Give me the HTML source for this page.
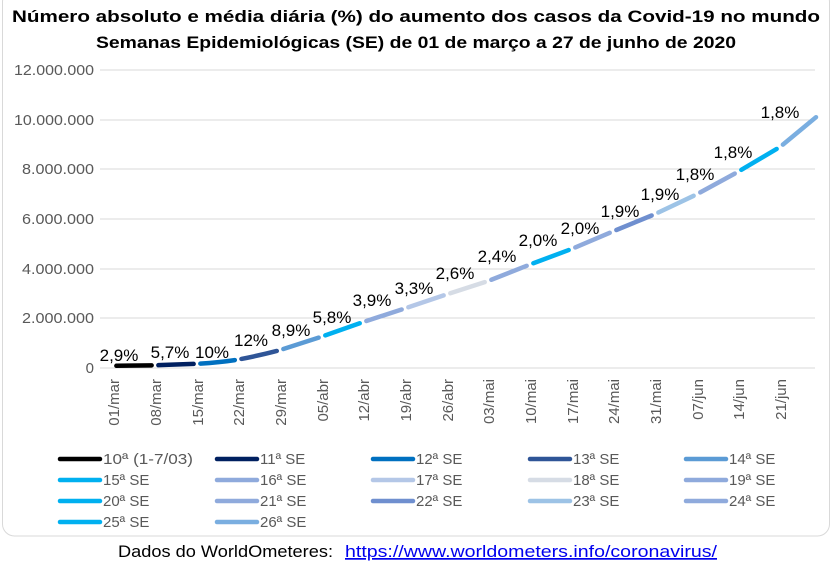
<!DOCTYPE html>
<html><head><meta charset="utf-8"><style>
body{margin:0;background:#fff;width:833px;height:565px;overflow:hidden;font-family:"Liberation Sans",sans-serif}
</style></head><body>
<svg width="833" height="565" xmlns="http://www.w3.org/2000/svg" font-family="Liberation Sans, sans-serif">
<rect x="2.5" y="-10" width="827" height="546" rx="12" fill="#fff" stroke="#d9d9d9"/>
<text x="416" y="22" text-anchor="middle" font-size="17" font-weight="bold" textLength="808" lengthAdjust="spacingAndGlyphs">Número absoluto e média diária (%) do aumento dos casos da Covid-19 no mundo</text>
<text x="416" y="48" text-anchor="middle" font-size="17" font-weight="bold" textLength="640" lengthAdjust="spacingAndGlyphs">Semanas Epidemiológicas (SE) de 01 de março a 27 de junho de 2020</text>
<g stroke="#d9d9d9" stroke-width="1">
<line x1="100" x2="815" y1="70" y2="70"/><line x1="100" x2="815" y1="120" y2="120"/><line x1="100" x2="815" y1="169" y2="169"/><line x1="100" x2="815" y1="219" y2="219"/><line x1="100" x2="815" y1="269" y2="269"/><line x1="100" x2="815" y1="318" y2="318"/><line x1="100" x2="815" y1="368" y2="368"/>
</g>
<g font-size="15" fill="#595959" text-anchor="end">
<text x="94" y="75" textLength="80" lengthAdjust="spacingAndGlyphs">12.000.000</text><text x="94" y="125" textLength="80" lengthAdjust="spacingAndGlyphs">10.000.000</text><text x="94" y="174" textLength="72" lengthAdjust="spacingAndGlyphs">8.000.000</text><text x="94" y="224" textLength="72" lengthAdjust="spacingAndGlyphs">6.000.000</text><text x="94" y="274" textLength="72" lengthAdjust="spacingAndGlyphs">4.000.000</text><text x="94" y="323" textLength="72" lengthAdjust="spacingAndGlyphs">2.000.000</text><text x="94" y="373">0</text>
</g>
<g font-size="15" fill="#595959" text-anchor="end">
<text transform="translate(119,379) rotate(-90)">01/mar</text>
<text transform="translate(161,379) rotate(-90)">08/mar</text>
<text transform="translate(203,379) rotate(-90)">15/mar</text>
<text transform="translate(244,379) rotate(-90)">22/mar</text>
<text transform="translate(286,379) rotate(-90)">29/mar</text>
<text transform="translate(328,379) rotate(-90)">05/abr</text>
<text transform="translate(369,379) rotate(-90)">12/abr</text>
<text transform="translate(411,379) rotate(-90)">19/abr</text>
<text transform="translate(453,379) rotate(-90)">26/abr</text>
<text transform="translate(494,379) rotate(-90)">03/mai</text>
<text transform="translate(536,379) rotate(-90)">10/mai</text>
<text transform="translate(578,379) rotate(-90)">17/mai</text>
<text transform="translate(619,379) rotate(-90)">24/mai</text>
<text transform="translate(661,379) rotate(-90)">31/mai</text>
<text transform="translate(703,379) rotate(-90)">07/jun</text>
<text transform="translate(744,379) rotate(-90)">14/jun</text>
<text transform="translate(786,379) rotate(-90)">21/jun</text>
</g>
<g fill="none" stroke-width="4.5" stroke-linecap="round">
<path pathLength="100" stroke-dasharray="84 100" stroke-dashoffset="-8" stroke="#000000" d="M113,365.8 L155,365.3"/>
<path pathLength="100" stroke-dasharray="84 100" stroke-dashoffset="-8" stroke="#002060" d="M155,365.3 L197,363.8"/>
<path pathLength="100" stroke-dasharray="84 100" stroke-dashoffset="-8" stroke="#0070c0" d="M197,363.8 Q220,362.5 238,359.6"/>
<path pathLength="100" stroke-dasharray="84 100" stroke-dashoffset="-8" stroke="#2f5597" d="M238,359.6 Q262,355 280,350.1"/>
<path pathLength="100" stroke-dasharray="84 100" stroke-dashoffset="-8" stroke="#5b9bd5" d="M280,350.1 L322,336.5"/>
<path pathLength="100" stroke-dasharray="84 100" stroke-dashoffset="-8" stroke="#00b0f0" d="M322,336.5 L363,322.1"/>
<path pathLength="100" stroke-dasharray="84 100" stroke-dashoffset="-8" stroke="#8faadc" d="M363,322.1 L405,308.4"/>
<path pathLength="100" stroke-dasharray="84 100" stroke-dashoffset="-8" stroke="#b4c7e7" d="M405,308.4 L447,294.3"/>
<path pathLength="100" stroke-dasharray="84 100" stroke-dashoffset="-8" stroke="#d6dce5" d="M447,294.3 L488,281.1"/>
<path pathLength="100" stroke-dasharray="84 100" stroke-dashoffset="-8" stroke="#8faadc" d="M488,281.1 L530,264.5"/>
<path pathLength="100" stroke-dasharray="84 100" stroke-dashoffset="-8" stroke="#00b0f0" d="M530,264.5 L572,248.8"/>
<path pathLength="100" stroke-dasharray="84 100" stroke-dashoffset="-8" stroke="#8faadc" d="M572,248.8 L613,231.4"/>
<path pathLength="100" stroke-dasharray="84 100" stroke-dashoffset="-8" stroke="#6f8fcf" d="M613,231.4 L655,214.1"/>
<path pathLength="100" stroke-dasharray="84 100" stroke-dashoffset="-8" stroke="#9dc3e6" d="M655,214.1 L697,194.2"/>
<path pathLength="100" stroke-dasharray="84 100" stroke-dashoffset="-8" stroke="#8faadc" d="M697,194.2 L738,171.8"/>
<path pathLength="100" stroke-dasharray="84 100" stroke-dashoffset="-8" stroke="#00b0f0" d="M738,171.8 L780,147"/>
<path pathLength="100" stroke-dasharray="92 100" stroke-dashoffset="-8" stroke="#7aaee0" d="M780,147 L816,117.2"/>
</g>
<g font-size="17" fill="#000" text-anchor="middle">
<text x="119" y="361">2,9%</text><text x="170" y="358">5,7%</text><text x="212" y="358">10%</text><text x="251" y="346">12%</text><text x="291" y="336">8,9%</text><text x="332" y="323">5,8%</text><text x="372" y="306">3,9%</text><text x="414" y="294">3,3%</text><text x="455" y="279">2,6%</text><text x="497" y="262">2,4%</text><text x="538" y="246">2,0%</text><text x="580" y="234">2,0%</text><text x="620" y="217">1,9%</text><text x="660" y="200">1,9%</text><text x="695" y="180">1,8%</text><text x="733" y="158">1,8%</text><text x="780" y="118">1,8%</text>
</g>
<g stroke-width="4.5" stroke-linecap="round">
<line x1="60" x2="100" y1="459" y2="459" stroke="#000"/>
<line x1="217" x2="257" y1="459" y2="459" stroke="#002060"/>
<line x1="373" x2="413" y1="459" y2="459" stroke="#0070c0"/>
<line x1="530" x2="570" y1="459" y2="459" stroke="#2f5597"/>
<line x1="686" x2="726" y1="459" y2="459" stroke="#5b9bd5"/>
<line x1="60" x2="100" y1="480" y2="480" stroke="#00b0f0"/>
<line x1="217" x2="257" y1="480" y2="480" stroke="#8faadc"/>
<line x1="373" x2="413" y1="480" y2="480" stroke="#b4c7e7"/>
<line x1="530" x2="570" y1="480" y2="480" stroke="#d6dce5"/>
<line x1="686" x2="726" y1="480" y2="480" stroke="#8faadc"/>
<line x1="60" x2="100" y1="501" y2="501" stroke="#00b0f0"/>
<line x1="217" x2="257" y1="501" y2="501" stroke="#8faadc"/>
<line x1="373" x2="413" y1="501" y2="501" stroke="#6f8fcf"/>
<line x1="530" x2="570" y1="501" y2="501" stroke="#9dc3e6"/>
<line x1="686" x2="726" y1="501" y2="501" stroke="#8faadc"/>
<line x1="60" x2="100" y1="522" y2="522" stroke="#00b0f0"/>
<line x1="217" x2="257" y1="522" y2="522" stroke="#7aaee0"/>
</g>
<g font-size="15" fill="#595959">
<text x="103" y="464" textLength="90" lengthAdjust="spacingAndGlyphs">10ª (1-7/03)</text><text x="260" y="464">11ª SE</text><text x="416" y="464">12ª SE</text><text x="573" y="464">13ª SE</text><text x="729" y="464">14ª SE</text>
<text x="103" y="485">15ª SE</text><text x="260" y="485">16ª SE</text><text x="416" y="485">17ª SE</text><text x="573" y="485">18ª SE</text><text x="729" y="485">19ª SE</text>
<text x="103" y="506">20ª SE</text><text x="260" y="506">21ª SE</text><text x="416" y="506">22ª SE</text><text x="573" y="506">23ª SE</text><text x="729" y="506">24ª SE</text>
<text x="103" y="527">25ª SE</text><text x="260" y="527">26ª SE</text>
</g>
<text x="118" y="557" font-size="17" fill="#000" textLength="215" lengthAdjust="spacingAndGlyphs">Dados do WorldOmeteres:</text>
<text x="345" y="557" font-size="17" fill="#0000ee" text-decoration="underline" textLength="372" lengthAdjust="spacingAndGlyphs">https://www.worldometers.info/coronavirus/</text>
</svg>
</body></html>
